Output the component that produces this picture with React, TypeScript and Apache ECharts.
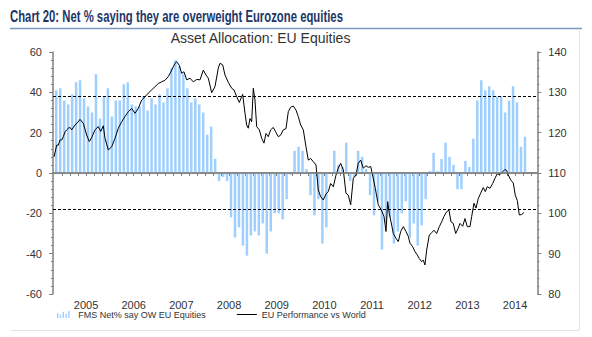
import React, { useEffect, useRef } from "react";
import * as echarts from "echarts";

// Monthly FMS survey readings, Nov 2004 .. Sep 2014 (net % overweight Eurozone equities)
const barStart = { year: 2004, month: 10 }; // November (0-based)
const barValues = [
  41, 42, 36, 34, 39, 45, 46, 37, 33, 30, 49, 27,
  38, 42, 28, 36, 36, 44, 45, 34, 33, 33, 38, 31,
  37, 34, 39, 35, 42, 52, 56, 53, 49, 42, 35, 37,
  34, 30, 19, 23, 7, -4, -2, -4, -22, -32, -27, -36,
  -41, -31, -29, -31, -25, -40, -29, -20, -20, -23, -13, -1,
  11, 13, 11, 2, -11, -21, -13, -35, -27, 0, 11, 4,
  3, 15, -4, -2, 11, 8, 2, -11, -21, -14, -38, -25,
  -22, -35, -29, -20, -14, -32, -25, -36, -26, -13, 1, 10,
  1, 7, 15, 8, 4, -8, -8, 6, 3, 17, 36, 46,
  41, 43, 41, 38, 38, 30, 36, 43, 35, 13, 18,
];

// EU performance vs World (right axis), read at decimal-year dates
const lineTimes = [
  2004.828, 2004.885, 2004.918, 2004.954, 2004.99, 2005.023, 2005.059, 2005.094, 2005.128, 2005.164,
  2005.199, 2005.269, 2005.338, 2005.373, 2005.443, 2005.514, 2005.568, 2005.619, 2005.688, 2005.757,
  2005.808, 2005.862, 2005.898, 2005.967, 2006.038, 2006.108, 2006.177, 2006.248, 2006.317, 2006.387,
  2006.458, 2006.527, 2006.596, 2006.668, 2006.737, 2006.806, 2006.877, 2006.947, 2007.016, 2007.087,
  2007.157, 2007.226, 2007.297, 2007.366, 2007.402, 2007.456, 2007.507, 2007.555, 2007.612, 2007.681,
  2007.75, 2007.822, 2007.891, 2007.96, 2008.017, 2008.065, 2008.136, 2008.205, 2008.275, 2008.31,
  2008.367, 2008.415, 2008.484, 2008.556, 2008.604, 2008.661, 2008.715, 2008.786, 2008.835, 2008.87,
  2008.904, 2008.94, 2008.975, 2009.009, 2009.044, 2009.08, 2009.135, 2009.185, 2009.233, 2009.275,
  2009.323, 2009.374, 2009.428, 2009.479, 2009.533, 2009.584, 2009.638, 2009.695, 2009.743, 2009.793,
  2009.848, 2009.905, 2009.953, 2010.003, 2010.058, 2010.114, 2010.163, 2010.213, 2010.268, 2010.324,
  2010.372, 2010.423, 2010.477, 2010.534, 2010.582, 2010.632, 2010.687, 2010.744, 2010.792, 2010.842,
  2010.897, 2010.953, 2011.002, 2011.052, 2011.107, 2011.163, 2011.211, 2011.262, 2011.316, 2011.373,
  2011.421, 2011.472, 2011.52, 2011.568, 2011.631, 2011.688, 2011.751, 2011.793, 2011.828, 2011.862,
  2011.912, 2011.946, 2012.002, 2012.051, 2012.101, 2012.156, 2012.212, 2012.26, 2012.296, 2012.353,
  2012.401, 2012.449, 2012.491, 2012.541, 2012.575, 2012.61, 2012.646, 2012.701, 2012.751, 2012.8,
  2012.856, 2012.911, 2012.961, 2013.009, 2013.066, 2013.114, 2013.156, 2013.204, 2013.255, 2013.303,
  2013.345, 2013.402, 2013.45, 2013.498, 2013.555, 2013.59, 2013.639, 2013.681, 2013.729, 2013.779,
  2013.834, 2013.876, 2013.918, 2013.975, 2014.031, 2014.079, 2014.127, 2014.184, 2014.241, 2014.289,
  2014.325, 2014.358, 2014.408, 2014.463, 2014.505, 2014.547, 2014.589, 2014.639, 2014.687,
];
const lineValues = [
  114, 116.9, 116.9, 118.2, 118.2, 119, 120.2, 120.7, 121.1, 121.3,
  120.7, 121.9, 122.7, 123.3, 122.3, 119.4, 117.8, 118.8, 120.7, 121.5,
  120.3, 121.7, 118.6, 115.7, 116.5, 118.6, 121.1, 122.7, 124, 125.2,
  126, 124.8, 126, 128.1, 128.9, 129.8, 130.6, 131.4, 132.2, 132.6,
  133, 133.9, 135.5, 137.2, 137.6, 136.7, 134.7, 135.1, 133.1, 133.5,
  132.6, 133.2, 133.1, 135.5, 134.3, 133.5, 129.9, 131.4, 136, 137.2,
  136.8, 134.3, 132.5, 131, 130.6, 128.9, 127.5, 129.5, 124.8, 121.9,
  121.1, 123.5, 122.7, 131, 128.1, 121.5, 120.7, 118.6, 117.4, 119.8,
  119, 120.7, 121.3, 120.2, 119, 119.4, 120.7, 121, 125.2, 126.3,
  126.6, 125.6, 124, 121.9, 120.7, 116.5, 113.2, 113.6, 112.8, 112,
  105.8, 104.1, 103.3, 104.8, 105.4, 107.4, 106.6, 109.5, 111.2, 112.4,
  110.8, 105, 104.5, 102.1, 108.7, 109.5, 112.4, 113.2, 111.2, 111.8,
  111.4, 111.6, 109, 106.2, 102.1, 101, 99.2, 95.5, 102.9, 100,
  97.1, 95, 93.8, 93, 95.5, 96.7, 95.5, 94.3, 92.6, 91.7,
  90.5, 89.7, 88.8, 88, 88.4, 87.2, 90.9, 94.6, 95.2, 95.8,
  95, 96.7, 97.9, 99.2, 100.4, 100.8, 97.9, 97.5, 95, 96.2,
  97.5, 96.8, 98.7, 96.7, 96.7, 99.2, 102.5, 101.3, 103.7, 105,
  106.4, 105.4, 106.6, 106.2, 107.4, 108.7, 109.8, 109.6, 110.3, 110.9,
  110.6, 109.5, 108.3, 107.5, 104.5, 103.2, 99.6, 99.7, 100.2,
];

const yearLabels = [2005, 2006, 2007, 2008, 2009, 2010, 2011, 2012, 2013, 2014];
const refLinesLeft = [38, -18];

const TITLE = "Chart 20: Net % saying they are overweight Eurozone equities";
const SUBTITLE = "Asset Allocation: EU Equities";
const BAR_NAME = "FMS Net% say OW EU Equities";
const LINE_NAME = "EU Performance vs World";

const TITLE_FONT = "bold 16px 'Liberation Sans', Arial, sans-serif";
const TITLE_WIDTH = 333;

function measure(text: string, font: string): number {
  const c = document.createElement("canvas").getContext("2d");
  if (!c) return TITLE_WIDTH;
  c.font = font;
  return c.measureText(text).width || TITLE_WIDTH;
}

export default function App() {
  const ref = useRef<HTMLDivElement>(null);
  useEffect(() => {
    if (!ref.current) return;
    const chart = echarts.init(ref.current, null, { renderer: "svg" });
    const barData = barValues.map((v, i) => {
      const m = barStart.month + i;
      return [barStart.year + (m + 0.5) / 12, v];
    });
    const lineData = lineTimes.map((t, i) => [t, lineValues[i]]);
    const tickVals: number[] = [];
    for (let k = 0; k <= 60; k++) {
      const v = 2005 + k / 6;
      if (v < 2014.97) tickVals.push(+v.toFixed(4));
    }
    const titleScale = TITLE_WIDTH / measure(TITLE, TITLE_FONT);
    const font = "Liberation Sans, Arial, sans-serif";
    chart.setOption({
      animation: false,
      textStyle: { fontFamily: font },
      grid: { left: 53, top: 52, width: 484.3, height: 242, containLabel: false },
      xAxis: {
        type: "value",
        min: 2004.807,
        max: 2014.967,
        axisLine: { show: true, lineStyle: { color: "#7f7f7f", width: 1.5 } },
        axisTick: { show: true, customValues: tickVals, length: 3, lineStyle: { color: "#7f7f7f" } },
        axisLabel: {
          customValues: yearLabels.map((y) => y + 0.5),
          formatter: (v: number) => String(Math.floor(v)),
          fontSize: 11,
          color: "#333",
          margin: 5,
          fontFamily: font,
        },
        splitLine: { show: false },
      },
      yAxis: [
        {
          type: "value",
          min: -60,
          max: 60,
          interval: 20,
          position: "left",
          axisLine: { show: true, lineStyle: { color: "#7f7f7f", width: 1.5 } },
          axisTick: { show: true, length: 4, lineStyle: { color: "#7f7f7f" } },
          minorTick: { show: true, splitNumber: 5, length: 2, lineStyle: { color: "#7f7f7f" } },
          axisLabel: { fontSize: 11, color: "#333", margin: 11, fontFamily: font },
          splitLine: { show: false },
        },
        {
          type: "value",
          min: 80,
          max: 140,
          interval: 10,
          position: "right",
          axisLine: { show: true, lineStyle: { color: "#7f7f7f", width: 1.5 } },
          axisTick: { show: true, length: 4, lineStyle: { color: "#7f7f7f" } },
          minorTick: { show: true, splitNumber: 5, length: 2, lineStyle: { color: "#7f7f7f" } },
          axisLabel: { fontSize: 11, color: "#333", margin: 11, fontFamily: font },
          splitLine: { show: false },
        },
      ],
      legend: {
        left: 57,
        top: 310,
        itemWidth: 20,
        itemHeight: 7,
        itemGap: 31,
        padding: 0,
        textStyle: { fontSize: 9, color: "#333", fontFamily: font },
        data: [
          {
            name: BAR_NAME,
            icon: "path://M0,3h2v7h-2z M4,5h2v5h-2z M8,1h2v9h-2z M12,4h2v6h-2z M16,0h2v10h-2z",
          },
          { name: LINE_NAME, icon: "path://M0,0h20v1h-20z" },
        ],
      },
      series: [
        {
          name: BAR_NAME,
          type: "bar",
          yAxisIndex: 0,
          barWidth: 2.5,
          itemStyle: { color: "#9fcfff" },
          data: barData,
          markLine: {
            silent: true,
            symbol: "none",
            label: { show: false },
            data: [
              { yAxis: 0, lineStyle: { color: "#7f7f7f", type: "solid", width: 1.5 } },
              ...refLinesLeft.map((v) => ({
                yAxis: v,
                lineStyle: { color: "#000", type: [3, 2], width: 1 },
              })),
            ],
          },
        },
        {
          name: LINE_NAME,
          type: "line",
          yAxisIndex: 1,
          showSymbol: false,
          symbol: "none",
          lineStyle: { color: "#000", width: 1 },
          itemStyle: { color: "#000" },
          data: lineData,
          z: 3,
        },
      ],
      graphic: [
        {
          type: "text",
          x: 10,
          y: 8,
          scaleX: titleScale,
          style: {
            text: TITLE,
            fill: "#1c3668",
            font: TITLE_FONT,
          },
        },
        {
          type: "line",
          shape: { x1: 10, y1: 28.5, x2: 582, y2: 28.5 },
          style: { stroke: "#7b96bf", lineWidth: 1.5 },
        },
        {
          type: "line",
          shape: { x1: 579.5, y1: 29, x2: 579.5, y2: 330 },
          style: { stroke: "#e2e2e2", lineWidth: 1 },
        },
        {
          type: "line",
          shape: { x1: 11, y1: 330.5, x2: 579.5, y2: 330.5 },
          style: { stroke: "#e2e2e2", lineWidth: 1 },
        },
        {
          type: "text",
          x: 260.5,
          y: 37.5,
          style: {
            text: SUBTITLE,
            fill: "#333",
            font: "14px 'Liberation Sans', Arial, sans-serif",
            textAlign: "center",
            textVerticalAlign: "middle",
          },
        },
      ],
    });
    return () => chart.dispose();
  }, []);
  return (
    <div
      ref={ref}
      style={{ position: "fixed", left: 0, top: 0, width: 592, height: 337, background: "#fff" }}
    />
  );
}
